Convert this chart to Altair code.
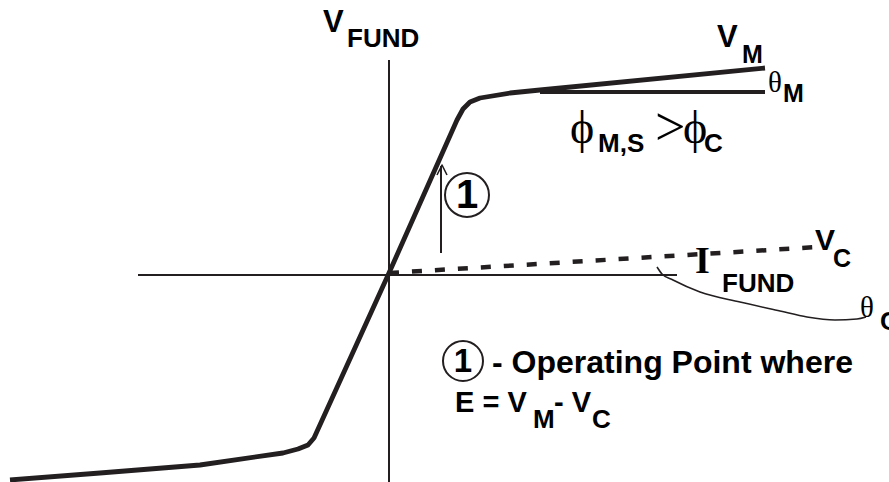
import altair as alt
import pandas as pd

# Diagram coordinates: origin at the axis crossing, x to the right, y upward.
X_MIN, X_MAX = -389, 500
Y_MIN, Y_MAX = -207, 275
INK = "#231f20"

# Fundamental-voltage characteristic (knee at both ends, steep linear middle)
curve_x = [-379, -289, -189, -106, -91, -81, -75, 0, 68, 74, 81, 91, 121, 151, 376]
curve_y = [-205, -198, -190, -178, -174, -170, -163, 2, 155, 166, 173, 177, 182, 185, 207]

# Capacitor voltage line (dashed) and the theta_M reference line
vc_x = [0, 429]
vc_y = [2, 28]
thm_x = [151, 376]
thm_y = [183, 183]

# Curved leader to theta_C
thc_x = [268, 273, 284, 311, 351, 391, 418, 446, 468, 477]
thc_y = [8, 1, -5, -17, -27, -36, -42, -45, -44, -42]

# Axes
hax_x = [-251, 288]
hax_y = [0, 0]
vax_x = [0, 0]
vax_y = [215, -207]

# Operating-point arrow
arr_x = [52, 52]
arr_y = [22, 109]
head_x = [48, 53, 58]
head_y = [100, 110, 100]

# Circled markers
circ_x = [78, 74]
circ_y = [80, -86]
circ_d = [44, 40]
circ_lbl = ["1", "1"]
circ_fs = [40, 33]

# Bold sans labels
sans_txt = ["V", "FUND", "V", "M", "M", "M,S", "C", "V", "C", "FUND", "C",
            "- Operating Point where", "E = V", "M", "- V", "C"]
sans_x = [-66, -42, 328, 353, 394, 209, 315, 426, 444, 333, 491,
          103, 66, 144, 165, 203]
sans_y = [243, 228, 228, 212, 173, 123, 123, 25, 8, -17, -55,
          -98, -137, -153, -137, -153]
sans_fs = [31, 26, 31, 25, 25, 26, 26, 30, 25, 26, 26,
           32, 29, 26, 29, 26]

# Serif symbols
serif_txt = ["θ", "ϕ", ">", "ϕ", "θ"]
serif_x = [379, 181, 266, 294, 471]
serif_y = [183, 132, 130, 132, -42]
serif_fs = [29, 46, 54, 46, 29]

# Serif bold current symbol
ibold_txt = ["I"]
ibold_x = [306]
ibold_y = [2]
ibold_fs = [38]

xs = alt.Scale(domain=[X_MIN, X_MAX], nice=False, zero=False)
ys = alt.Scale(domain=[Y_MIN, Y_MAX], nice=False, zero=False)


def X(field="x"):
    return alt.X(f"{field}:Q", scale=xs, axis=None)


def Y(field="y"):
    return alt.Y(f"{field}:Q", scale=ys, axis=None)


def line(xv, yv, width, dash=None, interp="linear"):
    df = pd.DataFrame({"x": xv, "y": yv, "i": range(len(xv))})
    kw = dict(color=INK, strokeWidth=width, interpolate=interp,
              strokeCap="butt", strokeJoin="round", clip=True)
    if dash:
        kw["strokeDash"] = dash
    return alt.Chart(df).mark_line(**kw).encode(x=X(), y=Y(), order="i:Q")


def texts(txt, xv, yv, fs, font, weight="bold", align="left"):
    df = pd.DataFrame({"x": xv, "y": yv, "t": txt, "fs": fs})
    return alt.Chart(df).mark_text(
        font=font, fontWeight=weight, align=align, baseline="alphabetic",
        color="#000000"
    ).encode(x=X(), y=Y(), text="t:N", size=alt.Size("fs:Q", scale=None, legend=None))


circ_df = pd.DataFrame({"x": circ_x, "y": circ_y, "d2": [d * d for d in circ_d],
                        "t": circ_lbl, "fs": circ_fs})
circles = alt.Chart(circ_df).mark_point(
    shape="circle", filled=False, color=INK, strokeWidth=2, opacity=1
).encode(x=X(), y=Y(), size=alt.Size("d2:Q", scale=None, legend=None))
circle_nums = alt.Chart(circ_df).mark_text(
    font="Liberation Sans", fontWeight="bold", align="center", baseline="middle",
    color="#000000", dy=1
).encode(x=X(), y=Y(), text="t:N", size=alt.Size("fs:Q", scale=None, legend=None))

chart = alt.layer(
    line(hax_x, hax_y, 2),
    line(vax_x, vax_y, 2),
    line(vc_x, vc_y, 4.5, dash=[10, 13]),
    line(thm_x, thm_y, 4),
    line(curve_x, curve_y, 4.8),
    line(thc_x, thc_y, 1.6, interp="monotone"),
    line(arr_x, arr_y, 2),
    line(head_x, head_y, 1.6),
    circles,
    circle_nums,
    texts(sans_txt, sans_x, sans_y, sans_fs, "Liberation Sans"),
    texts(serif_txt, serif_x, serif_y, serif_fs, "Liberation Serif, DejaVu Serif", weight="normal"),
    texts(ibold_txt, ibold_x, ibold_y, ibold_fs, "Liberation Serif", weight="bold"),
).properties(
    width=889, height=482, padding=0, autosize="none", background="white"
).configure_view(stroke=None)

chart.save("out.html", embed_options={"renderer": "svg", "actions": False})
